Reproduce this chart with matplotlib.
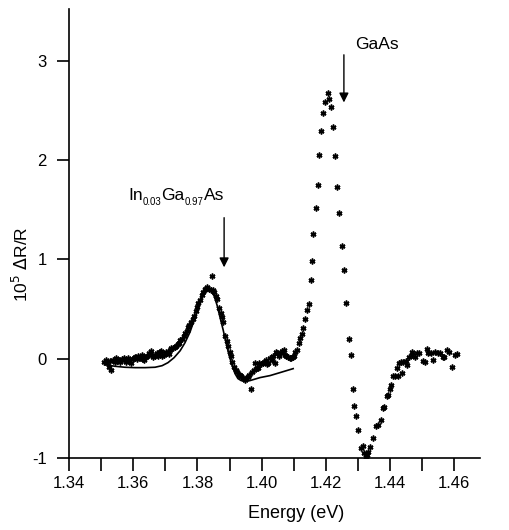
import numpy as np
import matplotlib
matplotlib.use("Agg")
import matplotlib.pyplot as plt
from matplotlib.ticker import MultipleLocator

plt.rcParams['font.family'] = ['Liberation Sans', 'DejaVu Sans']
plt.rcParams['axes.unicode_minus'] = False

# measured data (energy in eV, 10^5 dR/R)
energy = [1.3509, 1.3514, 1.3518, 1.3523, 1.3528, 1.3532, 1.3537, 1.3542, 1.3546, 1.3551,
          1.3556, 1.3560, 1.3565, 1.3570, 1.3574, 1.3579, 1.3584, 1.3588, 1.3593, 1.3598,
          1.3602, 1.3607, 1.3612, 1.3616, 1.3621, 1.3626, 1.3630, 1.3635, 1.3640, 1.3644,
          1.3649, 1.3654, 1.3658, 1.3663, 1.3668, 1.3673, 1.3677, 1.3682, 1.3687, 1.3691,
          1.3696, 1.3701, 1.3705, 1.3710, 1.3715, 1.3719, 1.3724, 1.3729, 1.3733, 1.3738,
          1.3743, 1.3747, 1.3752, 1.3757, 1.3761, 1.3766, 1.3771, 1.3775, 1.3780, 1.3785,
          1.3789, 1.3794, 1.3799, 1.3803, 1.3808, 1.3813, 1.3817, 1.3822, 1.3827, 1.3831,
          1.3836, 1.3841, 1.3844, 1.3848, 1.3853, 1.3858, 1.3862, 1.3867, 1.3872, 1.3876,
          1.3881, 1.3886, 1.3891, 1.3895, 1.3900, 1.3905, 1.3909, 1.3914, 1.3919, 1.3923,
          1.3928, 1.3933, 1.3937, 1.3942, 1.3947, 1.3951, 1.3956, 1.3961, 1.3966, 1.3970,
          1.3975, 1.3979, 1.3984, 1.3989, 1.3993, 1.3998, 1.4003, 1.4007, 1.4012, 1.4017,
          1.4021, 1.4026, 1.4031, 1.4035, 1.4040, 1.4045, 1.4049, 1.4054, 1.4059, 1.4063,
          1.4068, 1.4073, 1.4077, 1.4082, 1.4087, 1.4091, 1.4096, 1.4101, 1.4105, 1.4110,
          1.4115, 1.4119, 1.4124, 1.4128, 1.4134, 1.4140, 1.4147, 1.4152, 1.4158, 1.4161,
          1.4168, 1.4175, 1.4180, 1.4185, 1.4190, 1.4197, 1.4206, 1.4211, 1.4215, 1.4222,
          1.4228, 1.4236, 1.4242, 1.4249, 1.4256, 1.4264, 1.4271, 1.4278, 1.4285, 1.4289,
          1.4295, 1.4301, 1.4310, 1.4315, 1.4320, 1.4324, 1.4327, 1.4331, 1.4337, 1.4346,
          1.4356, 1.4361, 1.4370, 1.4379, 1.4382, 1.4389, 1.4393, 1.4401, 1.4404, 1.4408,
          1.4415, 1.4421, 1.4424, 1.4429, 1.4434, 1.4438, 1.4441, 1.4450, 1.4454, 1.4459,
          1.4467, 1.4469, 1.4478, 1.4483, 1.4491, 1.4502, 1.4507, 1.4514, 1.4519, 1.4526,
          1.4534, 1.4540, 1.4550, 1.4555, 1.4564, 1.4568, 1.4578, 1.4583, 1.4592, 1.4602,
          1.4607]
signal = [-0.03, -0.01, -0.04, -0.08, -0.02, -0.11, -0.01, -0.03, 0.01, -0.02,
          -0.01, -0.03, 0.00, 0.01, -0.01, -0.03, 0.01, -0.02, -0.04, 0.00,
          0.01, 0.02, 0.00, 0.03, 0.01, 0.04, 0.00, -0.01, 0.02, 0.03,
          0.06, 0.08, 0.04, 0.02, 0.03, 0.06, 0.03, 0.07, 0.08, 0.03,
          0.04, 0.07, 0.06, 0.05, 0.09, 0.11, 0.11, 0.12, 0.13, 0.15,
          0.16, 0.19, 0.20, 0.23, 0.26, 0.28, 0.32, 0.34, 0.37, 0.40,
          0.43, 0.48, 0.52, 0.56, 0.59, 0.64, 0.67, 0.70, 0.70, 0.72,
          0.70, 0.69, 0.83, 0.69, 0.67, 0.63, 0.60, 0.51, 0.46, 0.42,
          0.37, 0.23, 0.18, 0.13, 0.07, 0.03, -0.03, -0.08, -0.11, -0.13,
          -0.16, -0.16, -0.17, -0.19, -0.21, -0.19, -0.18, -0.16, -0.30, -0.13,
          -0.11, -0.04, -0.09, -0.09, -0.04, -0.05, -0.04, -0.03, -0.01, -0.05,
          -0.04, 0.01, -0.01, 0.03, -0.04, 0.07, 0.06, 0.03, 0.06, 0.08,
          0.09, 0.04, 0.03, 0.02, 0.01, 0.01, 0.02, 0.03, 0.07, 0.09,
          0.16, 0.21, 0.25, 0.31, 0.40, 0.49, 0.55, 0.79, 0.98, 1.26,
          1.52, 1.75, 2.05, 2.29, 2.47, 2.58, 2.68, 2.62, 2.53, 2.33,
          2.04, 1.73, 1.47, 1.13, 0.89, 0.56, 0.20, 0.04, -0.30, -0.48,
          -0.58, -0.72, -0.90, -0.88, -0.95, -0.99, -0.97, -0.94, -0.89, -0.80,
          -0.68, -0.67, -0.62, -0.50, -0.49, -0.38, -0.37, -0.31, -0.26, -0.17,
          -0.17, -0.09, -0.17, -0.04, -0.03, -0.14, -0.03, -0.02, -0.06, 0.02,
          0.04, 0.07, 0.02, 0.06, 0.06, -0.02, -0.03, 0.10, 0.06, 0.06,
          -0.01, 0.07, 0.06, 0.06, 0.02, 0.02, 0.09, 0.07, -0.08, 0.04,
          0.05]

# lineshape fit for the In0.03Ga0.97As feature
fit_energy = [1.3512, 1.3543, 1.3574, 1.3606, 1.3637, 1.3668, 1.3690, 1.3708, 1.3727, 1.3746,
              1.3761, 1.3777, 1.3792, 1.3805, 1.3814, 1.3824, 1.3830, 1.3836, 1.3842, 1.3852,
              1.3861, 1.3870, 1.3880, 1.3889, 1.3898, 1.3908, 1.3917, 1.3926, 1.3936, 1.3948,
              1.3964, 1.3995, 1.4026, 1.4057, 1.4098]
fit_signal = [-0.06, -0.076, -0.086, -0.09, -0.09, -0.086, -0.07, -0.04, 0.01, 0.08,
              0.16, 0.27, 0.41, 0.54, 0.63, 0.69, 0.71, 0.71, 0.69, 0.63,
              0.54, 0.42, 0.29, 0.16, 0.04, -0.07, -0.15, -0.20, -0.22, -0.23,
              -0.22, -0.19, -0.17, -0.14, -0.10]

fig = plt.figure(figsize=(5.1, 5.3), dpi=100)
ax = fig.add_axes([0.1353, 0.1358, 0.806, 0.847])

ax.plot(energy, signal, linestyle='none', marker=(6, 2, 0), markersize=4.2,
        markeredgewidth=1.1, color='black')
ax.plot(fit_energy, fit_signal, color='black', linewidth=1.2)

# feature markers
ax.annotate('', xy=(1.3883, 0.92), xytext=(1.3883, 1.42),
            arrowprops=dict(arrowstyle='-|>', color='black', lw=1.0,
                            mutation_scale=14, shrinkA=0, shrinkB=0))
ax.annotate('', xy=(1.4256, 2.58), xytext=(1.4256, 3.06),
            arrowprops=dict(arrowstyle='-|>', color='black', lw=1.0,
                            mutation_scale=14, shrinkA=0, shrinkB=0))

# In0.03Ga0.97As label with small subscripts
t = ax.text(1.3584, 1.57, 'In', fontsize=12.5, va='bottom', ha='left')
for piece, big in [('0.03', False), ('Ga', True), ('0.97', False), ('As', True)]:
    if big:
        t = ax.annotate(piece, xy=(1, 0), xycoords=t, xytext=(0, 3),
                        textcoords='offset points', fontsize=12.5, va='bottom', ha='left')
    else:
        t = ax.annotate(piece, xy=(1, 0), xycoords=t, xytext=(0, -3),
                        textcoords='offset points', fontsize=7, va='bottom', ha='left')
ax.text(1.4291, 3.16, 'GaAs', fontsize=12.5, va='center', ha='left')

ax.set_xlim(1.34, 1.468)
ax.set_ylim(-1, 3.52)
ax.xaxis.set_major_locator(MultipleLocator(0.02))
ax.xaxis.set_minor_locator(MultipleLocator(0.01))
ax.set_yticks([-1, 0, 1, 2, 3])
ax.xaxis.set_major_formatter(plt.FuncFormatter(lambda v, p: f'{v:.2f}'))

for s in ['top', 'right']:
    ax.spines[s].set_visible(False)
for s in ['left', 'bottom']:
    ax.spines[s].set_linewidth(1.2)
ax.tick_params(axis='both', which='both', direction='out', width=1.2, length=9,
               labelsize=12)
ax.tick_params(axis='y', pad=7)
ax.tick_params(axis='x', pad=4)

ax.set_xlabel('Energy (eV)', fontsize=13)
ax.xaxis.set_label_coords(0.552, -0.105)
ax.set_ylabel(r'10$^5$ $\Delta$R/R', fontsize=12.5)
ax.yaxis.set_label_coords(-0.092, 0.432)

fig.savefig('out.png', dpi=100)
